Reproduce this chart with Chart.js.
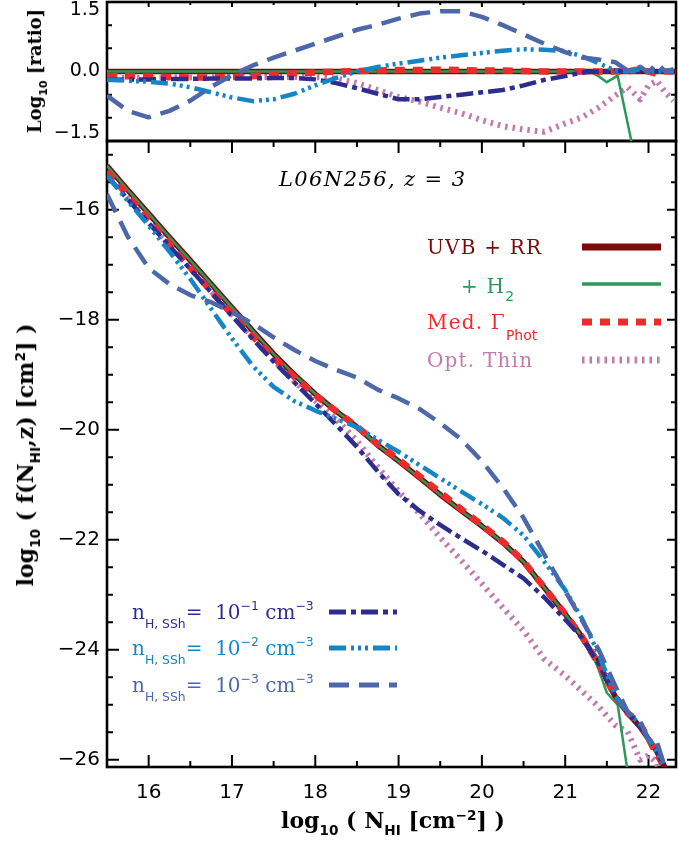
<!DOCTYPE html>
<html>
<head>
<meta charset="utf-8">
<script src="https://cdn.jsdelivr.net/npm/chart.js@4.4.1/dist/chart.umd.min.js"></script>
<style>
  html, body { margin: 0; padding: 0; background: #fff; }
  #page { position: relative; width: 678px; height: 846px; overflow: hidden; }
  canvas { position: absolute; left: 0; top: 0; }
  .t { position: absolute; white-space: nowrap; line-height: 1; transform: translateY(-50%); font-family: "DejaVu Serif", serif; }
  .ttl { position: absolute; white-space: nowrap; line-height: 1; font-family: "DejaVu Serif", serif; font-weight: bold;
         transform: translate(-50%, -50%) rotate(-90deg); }
  .xttl { position: absolute; white-space: nowrap; line-height: 1; font-family: "DejaVu Serif", serif; font-weight: bold;
          transform: translate(-50%, -50%); }
  .sb { position: relative; top: 0.75em; font-family: "DejaVu Sans", sans-serif; font-size: 0.62em; letter-spacing: 0; }
  .sp { position: relative; top: -0.75em; font-family: "DejaVu Sans", sans-serif; font-size: 0.62em; letter-spacing: 0; }
</style>
</head>
<body>
<div id="page">
  <canvas id="cddf" width="678" height="846"></canvas>
  <canvas id="ratio" width="678" height="160"></canvas>

  <div class="ttl" style="left:35px; top:71px; font-size:18px;">Log<span class="sb" style="top:0.5em">10</span> [ratio]</div>
  <div class="ttl" style="left:25px; top:455px; font-size:22px;">log<span class="sb" style="top:0.5em">10</span> ( f(N<span class="sb" style="top:0.5em">HI</span>,z) [cm<span class="sp" style="top:-0.6em">2</span>] )</div>
  <div class="xttl" style="left:393px; top:820px; font-size:22px;">log<span class="sb" style="top:0.5em">10</span> ( N<span class="sb" style="top:0.5em">HI</span> [cm<span class="sp" style="top:-0.6em">−2</span>] )</div>

  <div class="t" style="left:279px; top:179px; font-size:21px; font-style:italic; letter-spacing:1.4px;">L06N256, z = 3</div>

  <div class="t" style="left:427px; top:247px; font-size:20px; letter-spacing:1.2px; color:#7d0a0a;">UVB + RR</div>
  <div class="t" style="left:461px; top:286px; font-size:20px; letter-spacing:1.2px; color:#2a9a5a;">+ H<span class="sb" style="top:0.6em; font-size:0.7em">2</span></div>
  <div class="t" style="left:427px; top:322px; font-size:20px; letter-spacing:1.2px; color:#ee2b2b;">Med. Γ<span class="sb" style="top:0.8em; font-size:0.7em">Phot</span></div>
  <div class="t" style="left:427px; top:360px; font-size:20px; letter-spacing:1.2px; color:#c27aac;">Opt. Thin</div>

  <div class="t" style="left:132px; top:612px; font-size:20px; color:#2d2d8f;">n<span class="sb">H, SSh</span>= &nbsp;10<span class="sp">−1</span> cm<span class="sp">−3</span></div>
  <div class="t" style="left:132px; top:648px; font-size:20px; color:#1486c8;">n<span class="sb">H, SSh</span>= &nbsp;10<span class="sp">−2</span> cm<span class="sp">−3</span></div>
  <div class="t" style="left:132px; top:685px; font-size:20px; color:#4c68aa;">n<span class="sb">H, SSh</span>= &nbsp;10<span class="sp">−3</span> cm<span class="sp">−3</span></div>
</div>

<script>
// column density grid, log10 N_HI [cm^-2]
const logNHI = [15.5, 15.75, 16, 16.25, 16.5, 16.75, 17, 17.25, 17.5, 17.75, 18, 18.25, 18.5, 18.75,
  19, 19.25, 19.5, 19.75, 20, 20.25, 20.5, 20.75, 21, 21.2, 21.4, 21.6, 21.75, 21.9, 22, 22.1, 22.2, 22.3];

// log10 f(N_HI, z)
const fUVB = [-15.2, -15.64, -16.07, -16.5, -16.92, -17.35, -17.78, -18.2, -18.62, -19.0, -19.35, -19.66, -19.95, -20.28,
  -20.57, -20.87, -21.18, -21.47, -21.75, -22.05, -22.4, -22.87, -23.35, -23.76, -24.25, -24.85, -25.15, -25.4, -25.62, -25.85, -26.15, -26.5];
const fMed = [-15.3, -15.74, -16.18, -16.62, -17.05, -17.48, -17.9, -18.3, -18.69, -19.04, -19.37, -19.66, -19.94, -20.26,
  -20.54, -20.84, -21.14, -21.44, -21.73, -22.03, -22.39, -22.87, -23.35, -23.76, -24.25, -24.85, -25.15, -25.35, -25.62, -25.9, -26.15, -26.5];
const fThin = [-15.35, -15.78, -16.21, -16.63, -17.05, -17.48, -17.9, -18.32, -18.74, -19.12, -19.47, -19.81, -20.2, -20.68,
  -21.12, -21.52, -21.96, -22.37, -22.8, -23.23, -23.65, -24.17, -24.47, -24.75, -25.03, -25.37, -25.49, -26.0, -25.92, -26.05, -26.6, -27.13];
const fN1 = [-15.38, -15.81, -16.24, -16.66, -17.08, -17.5, -17.93, -18.35, -18.76, -19.14, -19.52, -19.91, -20.31, -20.76,
  -21.17, -21.47, -21.73, -21.97, -22.2, -22.45, -22.7, -23.05, -23.45, -23.78, -24.25, -24.83, -25.15, -25.4, -25.62, -25.85, -26.15, -26.5];
const fN2 = [-15.38, -15.84, -16.29, -16.76, -17.26, -17.8, -18.34, -18.84, -19.22, -19.48, -19.65, -19.8, -19.95, -20.18,
  -20.4, -20.64, -20.88, -21.12, -21.35, -21.6, -21.92, -22.4, -22.91, -23.43, -24.07, -24.83, -25.15, -25.35, -25.62, -25.85, -26.15, -26.5];
const fN3 = [-15.72, -16.49, -17.06, -17.35, -17.55, -17.68, -17.86, -18.07, -18.32, -18.55, -18.75, -18.91, -19.05, -19.27,
  -19.43, -19.62, -19.88, -20.17, -20.57, -21.05, -21.6, -22.27, -22.93, -23.46, -23.99, -24.65, -25.13, -25.3, -25.64, -25.67, -26.15, -26.45];

// the H2 run only departs near the damped end, so it has its own grid
const logNHI_H2 = [15.5, 15.75, 16, 16.25, 16.5, 16.75, 17, 17.25, 17.5, 17.75, 18, 18.25, 18.5, 18.75,
  19, 19.25, 19.5, 19.75, 20, 20.25, 20.5, 20.75, 21, 21.2, 21.3, 21.4, 21.5, 21.63, 21.8];
const fH2 = [-15.2, -15.64, -16.07, -16.5, -16.92, -17.35, -17.78, -18.2, -18.62, -19.0, -19.35, -19.66, -19.95, -20.28,
  -20.57, -20.87, -21.18, -21.47, -21.75, -22.05, -22.4, -22.87, -23.35, -23.76, -24.0, -24.35, -24.78, -25.0, -26.73];

// log10 of each run over UVB + RR
const ratioN3 = [-0.52, -0.85, -0.99, -0.85, -0.63, -0.33, -0.08, 0.13, 0.3, 0.45, 0.6, 0.75, 0.9, 1.01,
  1.14, 1.25, 1.3, 1.3, 1.18, 1.0, 0.8, 0.6, 0.42, 0.3, 0.26, 0.2, 0.02, 0.1, -0.02, 0.18, 0.0, 0.05];
const ratioN2 = [-0.18, -0.2, -0.22, -0.26, -0.34, -0.45, -0.56, -0.64, -0.6, -0.48, -0.3, -0.14, 0.0, 0.1,
  0.17, 0.23, 0.3, 0.35, 0.4, 0.45, 0.48, 0.47, 0.44, 0.33, 0.18, 0.02, 0.0, 0.05, 0.0, 0.0, 0.0, 0.0];
const ratioN1 = [-0.18, -0.17, -0.17, -0.16, -0.16, -0.15, -0.15, -0.15, -0.14, -0.14, -0.17, -0.25, -0.36, -0.48,
  -0.6, -0.6, -0.55, -0.5, -0.45, -0.4, -0.3, -0.18, -0.1, -0.02, 0.0, 0.02, 0.0, 0.0, 0.0, 0.0, 0.0, 0.0];
const ratioMed = [-0.1, -0.1, -0.11, -0.12, -0.13, -0.13, -0.12, -0.1, -0.07, -0.04, -0.02, 0.0, 0.01, 0.02,
  0.03, 0.03, 0.04, 0.03, 0.02, 0.02, 0.01, 0.0, 0.0, 0.0, 0.0, 0.0, 0.0, 0.05, 0.0, -0.05, 0.0, 0.0];
const ratioThin = [-0.15, -0.14, -0.14, -0.13, -0.13, -0.13, -0.12, -0.12, -0.12, -0.12, -0.12, -0.15, -0.25, -0.4,
  -0.55, -0.65, -0.78, -0.9, -1.05, -1.18, -1.25, -1.3, -1.12, -0.99, -0.78, -0.52, -0.34, -0.6, -0.3, -0.2, -0.45, -0.63];
const logNHI_ratioH2 = [15.5, 21.3, 21.4, 21.5, 21.63, 21.8];
const ratioH2 = [0, 0, -0.1, -0.23, -0.09, -1.55];
const logNHI_ratioUVB = [15.5, 22.33];
const ratioUVB = [0, 0];

// axis ticks
const xTicks = [16, 17, 18, 19, 20, 21, 22];
const yTicks = [-26, -24, -22, -20, -18, -16];
const ratioTicks = [-1.5, 0, 1.5];

const X_MIN = 15.5, X_MAX = 22.33;

const series = {
  uvb:  { color: '#7d0a0a', width: 5.5, dash: [], order: 6 },
  h2:   { color: '#2a9a5a', width: 2.5, dash: [], order: 5 },
  med:  { color: '#ee2b2b', width: 6.5, dash: [10, 8], order: 4 },
  thin: { color: '#c27aac', width: 6, dash: [2.5, 5], order: 7 },
  n1:   { color: '#2d2d8f', width: 4.5, dash: [17, 5, 5, 5], order: 3 },
  n2:   { color: '#1486c8', width: 4.5, dash: [17, 5, 3, 4, 3, 4, 3, 5], order: 2 },
  n3:   { color: '#4c68aa', width: 4.5, dash: [20, 10], order: 1 }
};

function line(key, xs, ys) {
  const s = series[key];
  return {
    key: key,
    data: xs.map((x, i) => ({ x: x, y: ys[i] })),
    borderColor: s.color,
    borderWidth: s.width,
    borderDash: s.dash,
    borderCapStyle: 'butt',
    borderJoinStyle: 'round',
    order: s.order,
    clip: 0,
    pointRadius: 0,
    tension: 0,
    fill: false
  };
}

// box frame with inward ticks on all four sides
const frameTicks = {
  id: 'frameTicks',
  beforeDatasetsDraw(chart, args, o) {
    const { ctx, chartArea: a, scales: { x, y } } = chart;
    const yMajor = y.ticks.map(t => t.value);
    ctx.save();
    ctx.strokeStyle = '#000';
    ctx.lineWidth = 2;
    ctx.beginPath();
    for (let v = Math.ceil(x.min * 2) / 2; v <= x.max + 1e-9; v += 0.5) {
      const px = x.getPixelForValue(v);
      const major = Number.isInteger(v);
      if (o.bottom) {
        const l = major ? o.bottom[0] : o.bottom[1];
        ctx.moveTo(px, a.bottom); ctx.lineTo(px, a.bottom - l);
      }
      const l = major ? o.top[0] : o.top[1];
      ctx.moveTo(px, a.top); ctx.lineTo(px, a.top + l);
    }
    for (let v = Math.ceil(y.min * 2) / 2; v <= y.max + 1e-9; v += 0.5) {
      const py = y.getPixelForValue(v);
      const major = yMajor.some(m => Math.abs(m - v) < 1e-6);
      const l = major ? o.left[0] : o.left[1];
      ctx.moveTo(a.left, py); ctx.lineTo(a.left + l, py);
      const r = major ? o.right[0] : o.right[1];
      ctx.moveTo(a.right, py); ctx.lineTo(a.right - r, py);
    }
    ctx.stroke();
    ctx.lineWidth = 2.6;
    ctx.strokeRect(a.left, a.top, a.right - a.left, a.bottom - a.top);
    ctx.restore();
  }
};

// line samples next to the legend labels
const legendKeys = {
  id: 'legendKeys',
  afterDatasetsDraw(chart, args, o) {
    const { ctx } = chart;
    ctx.save();
    o.items.forEach(it => {
      const s = series[it.key];
      ctx.strokeStyle = s.color;
      ctx.lineWidth = it.width || s.width;
      ctx.setLineDash(s.dash);
      ctx.lineCap = 'butt';
      ctx.beginPath();
      ctx.moveTo(it.x0, it.y);
      ctx.lineTo(it.x1, it.y);
      ctx.stroke();
    });
    ctx.restore();
  }
};

const tickFont = { family: '"DejaVu Sans", sans-serif', size: 20 };
const minus = v => (v < 0 ? '\u2212' : '') + Math.abs(v);

// y axis of fixed width, no extra room reserved for end labels
const fixAxis = s => { s.width = 107; s.paddingTop = 0; s.paddingBottom = 0; };

new Chart(document.getElementById('cddf'), {
  type: 'line',
  data: {
    datasets: [
      line('n3', logNHI, fN3),
      line('n2', logNHI, fN2),
      line('n1', logNHI, fN1),
      line('med', logNHI, fMed),
      line('h2', logNHI_H2, fH2),
      line('uvb', logNHI, fUVB),
      line('thin', logNHI, fThin)
    ]
  },
  options: {
    responsive: false,
    animation: false,
    events: [],
    layout: { padding: { top: 141, right: 2, left: 0, bottom: 0 } },
    plugins: {
      legend: { display: false },
      tooltip: { enabled: false },
      frameTicks: { bottom: [12, 6], top: [12, 6], left: [12, 6], right: [9, 5] },
      legendKeys: {
        items: [
          { key: 'uvb', x0: 582, x1: 661, y: 247, width: 7 },
          { key: 'h2', x0: 582, x1: 661, y: 284, width: 3.5 },
          { key: 'med', x0: 582, x1: 661, y: 322, width: 7 },
          { key: 'thin', x0: 582, x1: 661, y: 360, width: 7 },
          { key: 'n1', x0: 329, x1: 397, y: 612, width: 5 },
          { key: 'n2', x0: 329, x1: 397, y: 648, width: 5 },
          { key: 'n3', x0: 329, x1: 397, y: 685, width: 5 }
        ]
      }
    },
    scales: {
      x: {
        type: 'linear', min: X_MIN, max: X_MAX,
        afterBuildTicks: s => { s.ticks = xTicks.map(v => ({ value: v })); },
        afterFit: s => { s.height = 79; },
        grid: { display: false, drawTicks: false },
        border: { display: false },
        ticks: { font: tickFont, color: '#000', padding: 14, maxRotation: 0, autoSkip: false }
      },
      y: {
        type: 'linear', min: -26.13, max: -14.75,
        afterBuildTicks: s => { s.ticks = yTicks.map(v => ({ value: v })); },
        afterFit: fixAxis,
        grid: { display: false, drawTicks: false },
        border: { display: false },
        ticks: { font: tickFont, color: '#000', padding: 7, autoSkip: false, callback: v => minus(v) }
      }
    }
  },
  plugins: [frameTicks, legendKeys]
});

new Chart(document.getElementById('ratio'), {
  type: 'line',
  data: {
    datasets: [
      line('n3', logNHI, ratioN3),
      line('n2', logNHI, ratioN2),
      line('n1', logNHI, ratioN1),
      line('med', logNHI, ratioMed),
      line('h2', logNHI_ratioH2, ratioH2),
      line('uvb', logNHI_ratioUVB, ratioUVB),
      line('thin', logNHI, ratioThin)
    ]
  },
  options: {
    responsive: false,
    animation: false,
    events: [],
    layout: { padding: { top: 2, right: 2, left: 0, bottom: 0 } },
    plugins: {
      legend: { display: false },
      tooltip: { enabled: false },
      frameTicks: { bottom: null, top: [5, 3], left: [8, 5], right: [8, 5] }
    },
    scales: {
      x: {
        type: 'linear', min: X_MIN, max: X_MAX,
        afterFit: s => { s.height = 19; },
        grid: { display: false, drawTicks: false },
        border: { display: false },
        ticks: { display: false }
      },
      y: {
        type: 'linear', min: -1.5, max: 1.5,
        afterBuildTicks: s => { s.ticks = ratioTicks.map(v => ({ value: v })); },
        afterFit: fixAxis,
        grid: { display: false, drawTicks: false },
        border: { display: false },
        ticks: {
          font: { family: '"DejaVu Sans", sans-serif', size: 19, lineHeight: 0.85 },
          color: '#000', padding: 7, autoSkip: false,
          // keep the end labels inside the panel
          callback: v => {
            const s = (v < 0 ? '\u2212' : '') + Math.abs(v).toFixed(1);
            if (v === 1.5) return ['', s];
            if (v === -1.5) return [s, ''];
            return s;
          }
        }
      }
    }
  },
  plugins: [frameTicks]
});
</script>
</body>
</html>
